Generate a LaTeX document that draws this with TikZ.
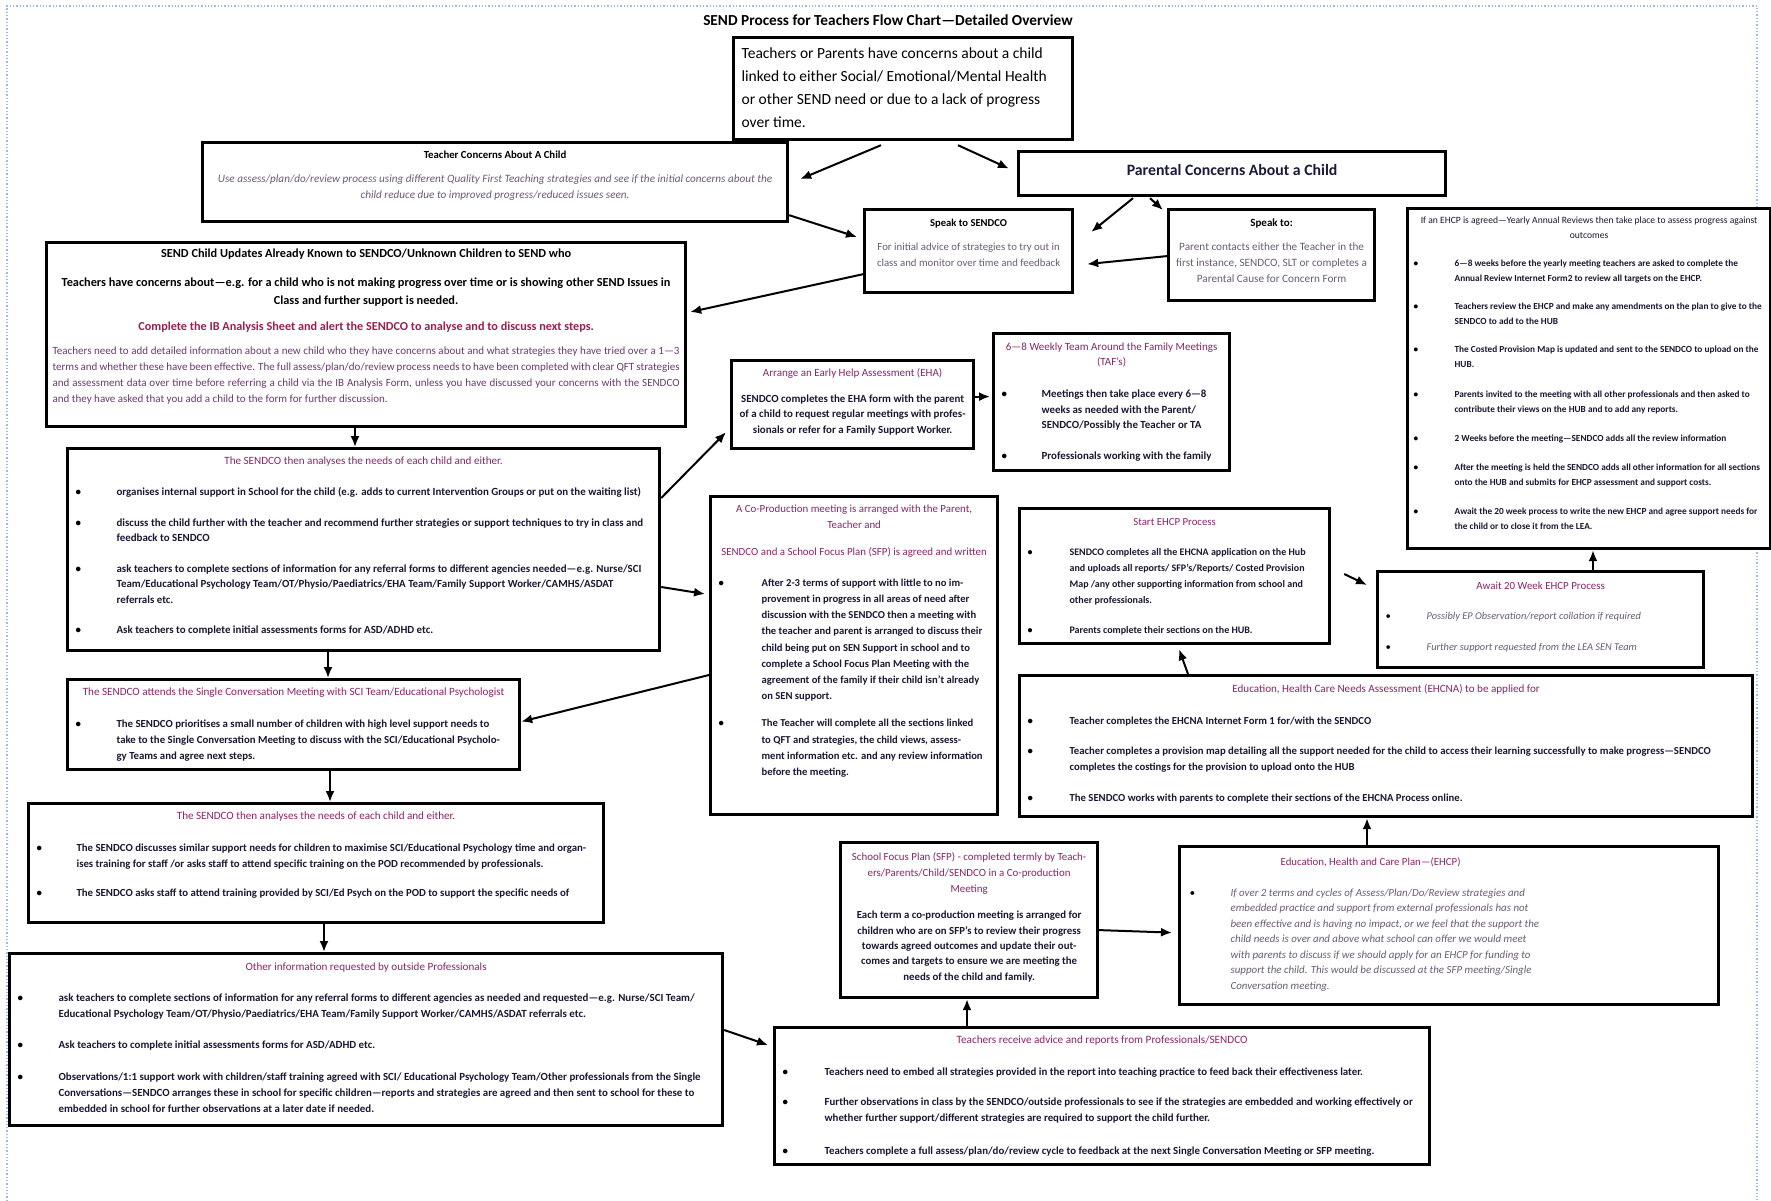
\documentclass[tikz,border=0pt]{standalone}
\usepackage{fontspec}
\setmainfont{Carlito}
\usetikzlibrary{arrows.meta}
\definecolor{hdc}{HTML}{8A2468}
\definecolor{dbody}{HTML}{1C1632}
\definecolor{lbody}{HTML}{6A5C72}
\definecolor{redc}{HTML}{9A1E50}
\definecolor{sub}{HTML}{6A3A70}
\definecolor{pcc}{HTML}{1A1A3A}
\definecolor{bluedot}{HTML}{9DB9E6}
\tikzset{
  bxs/.style={draw=black, line width=3.2pt, fill=white},
  arr/.style={-{Latex[length=11pt,width=9pt]}, line width=2pt},
  bord/.style={draw=bluedot, dotted, line width=1.3pt}
}
\newcommand\fb[2]{\fontsize{#1}{#2}\selectfont}
\newcommand\bx[7][6]{\node[bxs, inner sep=#1pt, anchor=north west] (#2) at (#3,#4) {\begin{minipage}[t][\dimexpr#6pt-#1pt-#1pt\relax][t]{\dimexpr#5pt-#1pt-#1pt\relax}\raggedright#7\end{minipage}};}
\newcommand\hd[2][hdc]{{\centering\color{#1}#2\par}}
\newcommand\bul[2][40]{\par\hangindent=#1pt\hangafter=1\noindent\makebox[#1pt][l]{\color{black}\textbullet}{\let\\\newline#2}\par}
\begin{document}
\begin{tikzpicture}[x=1pt,y=-1pt]
\fill[white] (0,0) rectangle (1771,1201);
\useasboundingbox (0,0) rectangle (1771,1201);
% page border
\draw[bord] (7,1201) -- (7,6) -- (1757,6) -- (1757,1201);
% title
\node[font=\bfseries\fb{15.3}{17}] (title) at (888,20) {SEND Process for Teachers Flow Chart—Detailed Overview};

\bx[8]{T0}{732}{36}{339}{102}{\fb{15.5}{23}\vspace*{2pt}Teachers or Parents have concerns about a child\\ linked to either Social/ Emotional/Mental Health\\ or other SEND need or due to a lack of progress\\ over time.}

\bx[6]{TC}{201}{141}{585}{79}{\fb{10.8}{16}\vspace*{2pt}\hd[black]{\bfseries Teacher Concerns About A Child}\vspace{8pt}\hd[lbody]{\itshape\fb{11.2}{16}Use assess/plan/do/review process using different Quality First Teaching strategies and see if the initial concerns about the\\ child reduce due to improved progress/reduced issues seen.}}

\bx[6]{PC}{1017}{150}{427}{44}{\fb{15.8}{18}\vspace*{7pt}\hd[pcc]{\bfseries Parental Concerns About a Child}}

\bx[6]{SS}{863}{208}{208}{83}{\fb{10.6}{16}\vspace*{3pt}\hd[black]{\bfseries Speak to SENDCO}\vspace{8pt}\hd[lbody]{\fb{10.8}{16}For initial advice of strategies to try out in\\ class and monitor over time and feedback}}

\bx[6]{SP}{1167}{208}{206}{91}{\fb{11}{16}\vspace*{3pt}\hd[black]{\bfseries Speak to:}\vspace{8pt}\hd[lbody]{\fb{11.2}{16}Parent contacts either the Teacher in the\\ first instance, SENDCO, SLT or completes a\\ Parental Cause for Concern Form}}

\bx[6]{ER}{1406}{207}{363}{340}{\fb{9.6}{15}\vspace*{2pt}\hd[dbody]{If an EHCP is agreed—Yearly Annual Reviews then take place to assess progress against\\ outcomes}\vspace{13pt}\color{dbody}\bfseries\fb{9.3}{15}%
\bul[41]{6—8 weeks before the yearly meeting teachers are asked to complete the\\ Annual Review Internet Form2 to review all targets on the EHCP.}\vspace{13pt}%
\bul[41]{Teachers review the EHCP and make any amendments on the plan to give to the\\ SENDCO to add to the HUB}\vspace{13pt}%
\bul[41]{The Costed Provision Map is updated and sent to the SENDCO to upload on the\\ HUB.}\vspace{15pt}%
\bul[41]{Parents invited to the meeting with all other professionals and then asked to\\ contribute their views on the HUB and to add any reports.}\vspace{14pt}%
\bul[41]{2 Weeks before the meeting—SENDCO adds all the review information}\vspace{14pt}%
\bul[41]{After the meeting is held the SENDCO adds all other information for all sections\\ onto the HUB and submits for EHCP assessment and support costs.}\vspace{14pt}%
\bul[41]{Await the 20 week process to write the new EHCP and agree support needs for\\ the child or to close it from the LEA.}}

\bx[6]{SU}{45}{241}{639}{184}{\vspace*{0pt}{\centering\bfseries\fb{12.3}{18}SEND Child Updates Already Known to SENDCO/Unknown Children to SEND who\par\vspace{11pt}Teachers have concerns about—e.g. for a child who is not making progress over time or is showing other SEND Issues in\\ Class and further support is needed.\par}\vspace{10pt}{\centering\color{redc}\bfseries\fb{12.2}{16}Complete the IB Analysis Sheet and alert the SENDCO to analyse and to discuss next steps.\par}\vspace{9pt}{\color{sub}\fb{11}{15.7}\rightskip=0pt\relax Teachers need to add detailed information about a new child who they have concerns about and what strategies they have tried over a 1—3 terms and whether these have been effective. The full assess/plan/do/review process needs to have been completed with clear QFT strategies and assessment data over time before referring a child via the IB Analysis Form, unless you have discussed your concerns with the SENDCO and they have asked that you add a child to the form for further discussion.\par}}

\bx[8]{A1}{66}{447}{592}{202}{\fb{10.9}{15.5}\vspace*{0pt}\hd{\fb{11.1}{15.5}The SENDCO then analyses the needs of each child and either.}\vspace{16pt}\color{dbody}\bfseries
\bul[41]{organises internal support in School for the child (e.g. adds to current Intervention Groups or put on the waiting list)}\vspace{15pt}%
\bul[41]{discuss the child further with the teacher and recommend further strategies or support techniques to try in class and\\ feedback to SENDCO}\vspace{15pt}%
\bul[41]{ask teachers to complete sections of information for any referral forms to different agencies needed—e.g. Nurse/SCI\\ Team/Educational Psychology Team/OT/Physio/Paediatrics/EHA Team/Family Support Worker/CAMHS/ASDAT\\ referrals etc.}\vspace{15pt}%
\bul[41]{Ask teachers to complete initial assessments forms for ASD/ADHD etc.}}

\bx[6]{EH}{730}{359}{242}{88}{\fb{11}{15.5}\vspace*{2pt}\hd{Arrange an Early Help Assessment (EHA)}\vspace{10pt}\hd[dbody]{\bfseries\fb{10.9}{15.5}SENDCO completes the EHA form with the parent\\ of a child to request regular meetings with profes-\\sionals or refer for a Family Support Worker.}}

\bx[8]{TAF}{992}{332}{236}{137}{\fb{11}{15}\vspace*{1pt}\hd{6—8 Weekly Team Around the Family Meetings\\ (TAF's)}\vspace{17pt}\color{dbody}\bfseries\fb{10.9}{15.5}%
\bul[40]{Meetings then take place every 6—8\\ weeks as needed with the Parent/\\ SENDCO/Possibly the Teacher or TA}\vspace{15.5pt}%
\bul[40]{Professionals working with the family}}

\bx[8]{CP}{709}{495}{287}{318}{\fb{10.9}{16}\vspace*{0pt}\hd{A Co-Production meeting is arranged with the Parent,\\ Teacher and}\vspace{11pt}\hd{SENDCO and a School Focus Plan (SFP) is agreed and written}\vspace{15pt}\color{dbody}\bfseries\fb{10.6}{16.2}%
\bul[43]{After 2-3 terms of support with little to no im-\\provement in progress in all areas of need after\\ discussion with the SENDCO then a meeting with\\ the teacher and parent is arranged to discuss their\\ child being put on SEN Support in school and to\\ complete a School Focus Plan Meeting with the\\ agreement of the family if their child isn't already\\ on SEN support.}\vspace{11pt}%
\bul[43]{The Teacher will complete all the sections linked\\ to QFT and strategies, the child views, assess-\\ment information etc. and any review information\\ before the meeting.}}

\bx[8]{SE}{1018}{507}{310}{135}{\fb{10.8}{16}\vspace*{2pt}\hd{Start EHCP Process}\vspace{14pt}\color{dbody}\bfseries\fb{10}{16}%
\bul[42]{SENDCO completes all the EHCNA application on the Hub\\ and uploads all reports/ SFP's/Reports/ Costed Provision\\ Map /any other supporting information from school and\\ other professionals.}\vspace{14pt}%
\bul[42]{Parents complete their sections on the HUB.}}

\bx[8]{AW}{1376}{570}{326}{96}{\fb{10.9}{16}\vspace*{2pt}\hd{Await 20 Week EHCP Process}\vspace{14pt}\color{lbody}\itshape\fb{10.4}{16}%
\bul[41]{Possibly EP Observation/report collation if required}\vspace{15pt}%
\bul[41]{Further support requested from the LEA SEN Team}}

\bx[8]{EN}{1018}{674}{733}{141}{\fb{11.1}{16}\vspace*{1pt}\hd{Education, Health Care Needs Assessment (EHCNA) to be applied for}\vspace{16pt}\color{dbody}\bfseries\fb{10.7}{16}%
\bul[42]{Teacher completes the EHCNA Internet Form 1 for/with the SENDCO}\vspace{14pt}%
\bul[42]{Teacher completes a provision map detailing all the support needed for the child to access their learning successfully to make progress—SENDCO\\ completes the costings for the provision to upload onto the HUB}\vspace{15pt}%
\bul[42]{The SENDCO works with parents to complete their sections of the EHCNA Process online.}}

\bx[8]{SC}{66}{678}{452}{90}{\fb{11.1}{16}\hd{The SENDCO attends the Single Conversation Meeting with SCI Team/Educational Psychologist}\vspace{16pt}\color{dbody}\bfseries\fb{10.8}{16}%
\bul[41]{The SENDCO prioritises a small number of children with high level support needs to\\ take to the Single Conversation Meeting to discuss with the SCI/Educational Psycholo-\\gy Teams and agree next steps.}}

\bx[8]{A2}{27}{802}{575}{119}{\fb{11.1}{16}\hd{The SENDCO then analyses the needs of each child and either.}\vspace{16pt}\color{dbody}\bfseries\fb{10.8}{16}%
\bul[40]{The SENDCO discusses similar support needs for children to maximise SCI/Educational Psychology time and organ-\\ises training for staff /or asks staff to attend specific training on the POD recommended by professionals.}\vspace{13pt}%
\bul[40]{The SENDCO asks staff to attend training provided by SCI/Ed Psych on the POD to support the specific needs of}}

\bx[8]{SFP}{839}{841}{257}{155}{\fb{10.9}{16}\vspace*{2pt}\hd{School Focus Plan (SFP) - completed termly by Teach-\\ers/Parents/Child/SENDCO in a Co-production\\ Meeting}\vspace{11pt}\hd[dbody]{\bfseries\fb{10.8}{15.3}Each term a co-production meeting is arranged for\\ children who are on SFP's to review their progress\\ towards agreed outcomes and update their out-\\comes and targets to ensure we are meeting the\\ needs of the child and family.}}

\bx[10]{EHCP}{1178}{845}{539}{158}{\fb{10.8}{15.5}\begin{minipage}[t]{362pt}\raggedright\vspace*{1pt}\hd{Education, Health and Care Plan—(EHCP)}\vspace{15pt}\color{lbody}\itshape\fb{10.9}{15.5}%
\bul[41]{If over 2 terms and cycles of Assess/Plan/Do/Review strategies and\\ embedded practice and support from external professionals has not\\ been effective and is having no impact, or we feel that the support the\\ child needs is over and above what school can offer we would meet\\ with parents to discuss if we should apply for an EHCP for funding to\\ support the child. This would be discussed at the SFP meeting/Single\\ Conversation meeting.}\end{minipage}}

\bx[8]{OI}{8}{952}{713}{172}{\fb{11.1}{16}\vspace*{1pt}\hd{Other information requested by outside Professionals}\vspace{15pt}\color{dbody}\bfseries\fb{10.9}{16}%
\bul[41]{ask teachers to complete sections of information for any referral forms to different agencies as needed and requested—e.g. Nurse/SCI Team/\\ Educational Psychology Team/OT/Physio/Paediatrics/EHA Team/Family Support Worker/CAMHS/ASDAT referrals etc.}\vspace{15pt}%
\bul[41]{Ask teachers to complete initial assessments forms for ASD/ADHD etc.}\vspace{16pt}%
\bul[41]{Observations/1:1 support work with children/staff training agreed with SCI/ Educational Psychology Team/Other professionals from the Single\\ Conversations—SENDCO arranges these in school for specific children—reports and strategies are agreed and then sent to school for these to\\ embedded in school for further observations at a later date if needed.}}

\bx[8]{TR}{773}{1026}{655}{137}{\fb{11.2}{16}\vspace*{0pt}\hd{Teachers receive advice and reports from Professionals/SENDCO}\vspace{16pt}\color{dbody}\bfseries\fb{10.85}{16}%
\bul[42]{Teachers need to embed all strategies provided in the report into teaching practice to feed back their effectiveness later.}\vspace{14pt}%
\bul[42]{Further observations in class by the SENDCO/outside professionals to see if the strategies are embedded and working effectively or\\ whether further support/different strategies are required to support the child further.}\vspace{17pt}%
\bul[42]{Teachers complete a full assess/plan/do/review cycle to feedback at the next Single Conversation Meeting or SFP meeting.}}

% connectors
\draw[arr] ([xshift=149pt,yshift=-4pt]T0.south west) -- ([xshift=11pt,yshift=3pt]TC.east);
\draw[arr] ([xshift=226pt,yshift=-4pt]T0.south west) -- ([xshift=-8pt,yshift=5pt]PC.west);
\draw[arr] ([yshift=8pt]TC.south east) -- ([xshift=-6pt,yshift=-29pt]SS.north west);
\draw[arr] ([xshift=116pt,yshift=-1pt]PC.south west) -- ([xshift=17pt,yshift=-24pt]SS.north east);
\draw[arr] ([xshift=133pt,yshift=-1pt]PC.south west) -- ([xshift=-4pt,yshift=-2pt]SP.north west);
\draw[arr] ([yshift=-1pt]SP.west) -- ([xshift=13pt,yshift=-13pt]SS.east);
\draw[arr] ([yshift=20pt]SS.south west) -- ([xshift=3pt,yshift=-71pt]SU.north east);
\draw[arr] ([xshift=310pt]SU.south west) -- ([xshift=289pt]A1.north west);
\draw[arr] ([yshift=-51pt]A1.north east) -- ([xshift=-4pt,yshift=18pt]EH.south west);
\draw[arr] ([yshift=8pt]EH.east) -- ([xshift=-2pt,yshift=5.5pt]TAF.west);
\draw[arr] ([yshift=-140pt]A1.north east) -- ([xshift=-4pt,yshift=-99pt]CP.north west);
\draw[arr] ([xshift=262pt]A1.south west) -- ([xshift=262pt]SC.north west);
\draw[arr] ([yshift=-180pt]CP.north west) -- ([yshift=3pt]SC.east);
\draw[arr] ([xshift=264pt]SC.south west) -- ([xshift=303pt]A2.north west);
\draw[arr] ([xshift=297pt]A2.south west) -- ([xshift=316pt]OI.north west);
\draw[arr] ([yshift=-78pt]OI.north east) -- ([xshift=-5pt,yshift=-19pt]TR.north west);
\draw[arr] ([xshift=194pt]TR.north west) -- ([xshift=128pt]SFP.south west);
\draw[arr] ([yshift=-10pt]SFP.east) -- ([xshift=-6pt,yshift=-7pt]EHCP.west);
\draw[arr] ([xshift=189pt]EHCP.north west) -- ([xshift=349pt]EN.south west);
\draw[arr] ([xshift=170pt]EN.north west) -- ([xshift=161pt,yshift=-4pt]SE.south west);
\draw[arr] ([xshift=13pt,yshift=-67pt]SE.north east) -- ([xshift=-9pt,yshift=-15pt]AW.north west);
\draw[arr] ([xshift=217pt]AW.north west) -- ([xshift=187pt]ER.south west);
\end{tikzpicture}
\end{document}
